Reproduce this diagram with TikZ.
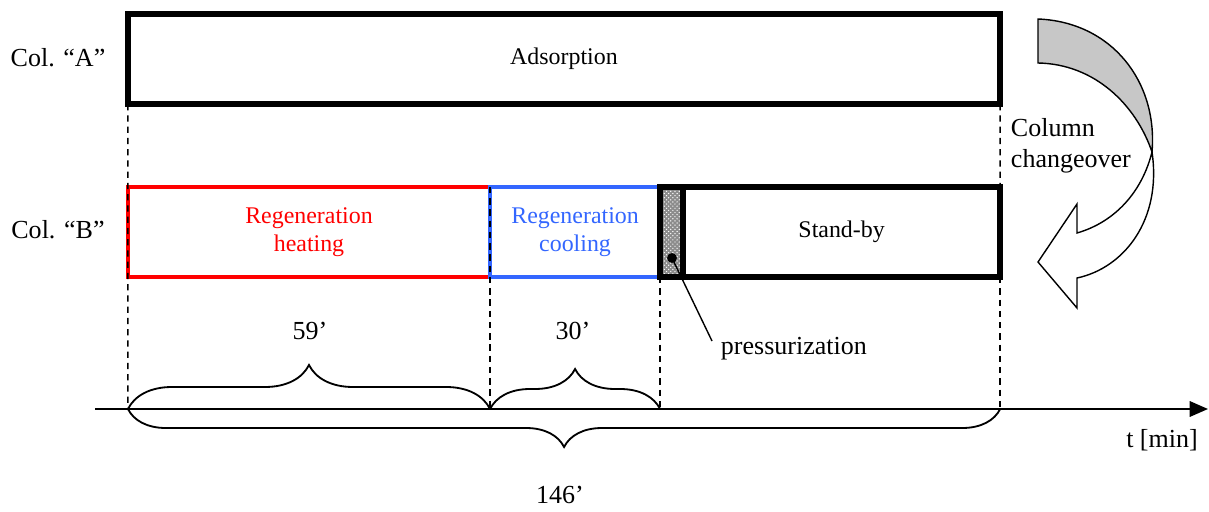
\documentclass[tikz,border=0pt]{standalone}
\usepackage{fontspec}
\setmainfont{Liberation Serif}
\usetikzlibrary{positioning, arrows.meta, decorations.pathreplacing, patterns}
\definecolor{coolblue}{RGB}{51,102,255}

\begin{document}
\begin{tikzpicture}[x=0.025cm, y=-0.025cm, >={Triangle[length=13pt, width=11pt]},
    every node/.style={font=\fontsize{18.5}{22}\selectfont},
    phase/.style={draw, line width=3.9pt, outer sep=0pt, inner sep=0pt, minimum height=2.25cm,
        align=center, font=\fontsize{17}{20}\selectfont},
    heatbox/.style={phase, draw=red, text=red, line width=3.1pt},
    coolbox/.style={phase, draw=coolblue, text=coolblue, line width=3.1pt},
    pressbox/.style={phase, preaction={fill=black!45}, pattern=crosshatch dots, pattern color=white},
    guide/.style={line width=1.1pt, dash pattern=on 4.5pt off 3.5pt},
    timebrace/.style={decorate, decoration={brace, amplitude=#1}, line width=1.3pt},
    ribbon/.style={line width=1pt}]

\useasboundingbox (0,0) rectangle (1209,512);

% column A
\node[phase, minimum width=21.8cm] (adsA) at (564,59) {Adsorption};
\node (colA) at (58,58) {Col. ``A''};

% column B
\node[heatbox, minimum width=9.05cm] (heat) at (309,232) {Regeneration\\heating};
\node[coolbox, minimum width=4.25cm, right=0pt of heat] (cool) {Regeneration\\cooling};
\node[phase, minimum width=7.925cm, right=0.575cm of cool] (stand) {Stand-by};
\node[pressbox, minimum width=0.575cm, right=0pt of cool] (presz) {};
\node (colB) at (58,230) {Col. ``B''};

% time axis
\coordinate (axstart) at (95,409);
\coordinate (axend) at (1208,409);
\draw[->, line width=1.3pt] (axstart) -- (axend);
\node (tlbl) at (1162,440) {t [min]};

\coordinate (t0) at (heat.south west |- axstart);
\coordinate (t1) at (heat.south east |- axstart);
\coordinate (t2) at (cool.south east |- axstart);
\coordinate (t3) at (stand.south east |- axstart);

% guide lines
\draw[guide] (adsA.south west) -- (t0);
\draw[guide] (heat.north east) -- (t1);
\draw[guide] (cool.south east) -- (t2);
\draw[guide] (adsA.south east) -- (stand.north east);
\draw[guide] (stand.south east) -- (t3);

% durations
\draw[timebrace=1.1cm] (t0) -- (t1);
\draw[timebrace=1.0cm] (t1) -- (t2);
\draw[timebrace=0.95cm] (t3) -- (t0);
\node (d59) at (310,331) {59'};
\node (d30) at (573,331) {30'};
\node (d146) at (560,495) {146'};

% pressurization
\node[anchor=west] (plbl) at (716,349) {pressurization};
\coordinate (pdot) at (672,258);
\coordinate (pend) at (712,341);
\fill (pdot) circle[radius=3.5pt];
\draw[line width=1pt] (pdot) -- (pend);

% column changeover
\node[anchor=west, align=left] (chg) at (1006,146) {Column\\changeover};
\filldraw[ribbon, fill=black!22] (1038,19) .. controls (1112,22) and (1158,82) .. (1152,152)
    .. controls (1136,105) and (1095,64) .. (1038,63) -- cycle;
\filldraw[ribbon, fill=white] (1152,152) .. controls (1142,192) and (1115,222) .. (1077,233)
    -- (1077,204) -- (1038,262) -- (1077,308) -- (1077,278)
    .. controls (1124,268) and (1162,220) .. (1152,152) -- cycle;

\end{tikzpicture}
\end{document}
